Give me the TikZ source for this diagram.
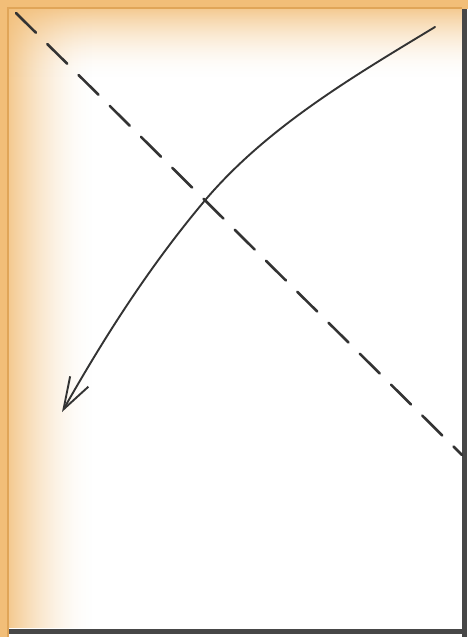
\documentclass[tikz,border=0pt]{standalone}
\usetikzlibrary{arrows.meta}
\definecolor{orng}{HTML}{F2BE78}
\definecolor{orngdk}{HTML}{E0A558}
\definecolor{ink}{HTML}{333333}
\tikzset{
  pen/.style={ink, line width=1.9pt, line cap=round},
  dashpen/.style={pen, line width=2.6pt, dash pattern=on 28pt off 16pt},
}
\begin{document}
\begin{tikzpicture}[x=1pt,y=-1pt]
\useasboundingbox (0,0) rectangle (468,637);
\fill[white] (0,0) rectangle (468,637);
% inner soft gradients
\begin{scope}
  \clip (9,9) rectangle (462,628);
  \foreach \i in {0,...,84}{
    \pgfmathsetmacro{\op}{0.82*(1-\i/85)^1.8}
    \fill[orng, fill opacity=\op] (9+\i,9) rectangle (10.2+\i,628);
  }
  \foreach \i in {0,...,69}{
    \pgfmathsetmacro{\op}{0.8*(1-\i/70)^1.9}
    \fill[orng, fill opacity=\op] (9,9+\i) rectangle (462,10.2+\i);
  }
\end{scope}
% outer orange band
\fill[orng] (0,0) rectangle (468,9);
\fill[orng] (0,0) rectangle (9,637);
% inner frame lines
\draw[orngdk, line width=2pt] (8,637) -- (8,8) -- (462,8);
\draw[ink!90, line width=5pt] (464,9) -- (464,637);
\draw[ink!90, line width=5pt] (9,631) -- (466,631);
% dashed diagonal
\coordinate (d1) at (16,13);
\coordinate (d2) at (462,455);
\draw[dashpen] (d1) -- (d2);
% curved arrow
\coordinate (a1) at (435,27);
\coordinate (am) at (207,198);
\coordinate (a2) at (62,412);
\draw[pen, -{Straight Barb[length=32pt,width=21pt,line width=1.9pt]}]
  (a1) .. controls (354,76) and (269,126) .. (am)
       .. controls (151,264) and (105,336) .. (a2);
\end{tikzpicture}
\end{document}
